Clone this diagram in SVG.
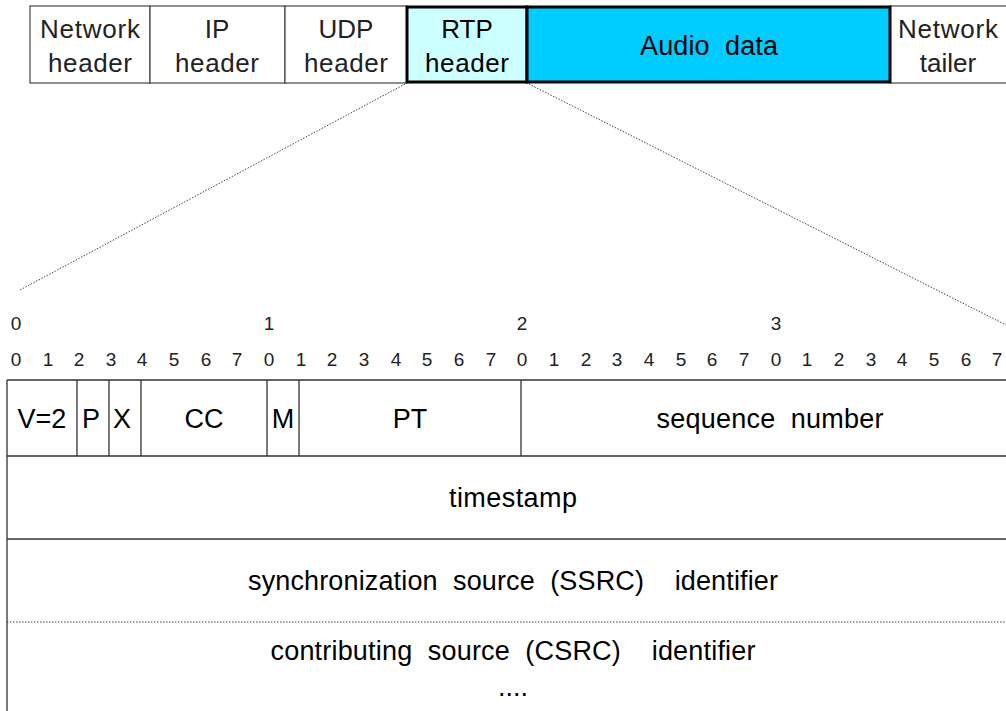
<svg xmlns="http://www.w3.org/2000/svg" width="1006" height="711" viewBox="0 0 1006 711">
<style>
text{font-family:"Liberation Sans",Arial,sans-serif;fill:#000;text-anchor:middle}
.hd{font-size:26px;fill:#222}
.bit{font-size:19px;fill:#222}
.fld{font-size:27px}
.pre{white-space:pre}
.box{fill:#fff;stroke:#444;stroke-width:1.2}
.thick{stroke:#000;stroke-width:3}
.ln{stroke:#333;stroke-width:1.3;fill:none}
.dot{stroke:#444;stroke-width:1;stroke-dasharray:1.5 1.5;fill:none}
</style>
<rect width="1006" height="711" fill="#fff"/>
<g id="packet">
<g id="net-header"><rect class="box" x="30" y="6" width="120" height="77"/><text class="hd" x="90" y="38" textLength="100">Network</text><text class="hd" x="90" y="72" textLength="84">header</text></g>
<g id="ip-header"><rect class="box" x="150" y="6" width="135" height="77"/><text class="hd" x="217" y="38">IP</text><text class="hd" x="217" y="72" textLength="84">header</text></g>
<g id="udp-header"><rect class="box" x="285" y="6" width="122" height="77"/><text class="hd" x="346" y="38">UDP</text><text class="hd" x="346" y="72" textLength="84">header</text></g>
<g id="net-tailer"><rect class="box" x="890" y="6" width="130" height="77"/><text class="hd" x="948" y="38" textLength="100">Network</text><text class="hd" x="948" y="72">tailer</text></g>
<g id="rtp-header"><rect class="thick" x="407" y="7" width="120" height="75" fill="#ccffff"/><text class="hd" x="467" y="38" style="fill:#000">RTP</text><text class="hd" x="467" y="72" style="fill:#000" textLength="84">header</text></g>
<g id="audio-data"><rect class="thick" x="527" y="7" width="363" height="75" fill="#00ccff"/><text class="fld pre" x="709" y="55" textLength="138">Audio  data</text></g>
</g>
<g id="connectors">
<line class="dot" x1="405" y1="84" x2="20" y2="290"/>
<line class="dot" x1="529" y1="84" x2="1006" y2="325"/>
</g>
<g id="bytes">
<text class="bit" x="16" y="330">0</text><text class="bit" x="269" y="330">1</text><text class="bit" x="522" y="330">2</text><text class="bit" x="776" y="330">3</text>
</g>
<g id="bits">
<text class="bit" x="16" y="366">0</text><text class="bit" x="48" y="366">1</text><text class="bit" x="79" y="366">2</text><text class="bit" x="111" y="366">3</text><text class="bit" x="142" y="366">4</text><text class="bit" x="174" y="366">5</text><text class="bit" x="206" y="366">6</text><text class="bit" x="237" y="366">7</text>
<text class="bit" x="269" y="366">0</text><text class="bit" x="301" y="366">1</text><text class="bit" x="332" y="366">2</text><text class="bit" x="364" y="366">3</text><text class="bit" x="396" y="366">4</text><text class="bit" x="427" y="366">5</text><text class="bit" x="459" y="366">6</text><text class="bit" x="491" y="366">7</text>
<text class="bit" x="522" y="366">0</text><text class="bit" x="554" y="366">1</text><text class="bit" x="586" y="366">2</text><text class="bit" x="617" y="366">3</text><text class="bit" x="649" y="366">4</text><text class="bit" x="681" y="366">5</text><text class="bit" x="712" y="366">6</text><text class="bit" x="744" y="366">7</text>
<text class="bit" x="776" y="366">0</text><text class="bit" x="807" y="366">1</text><text class="bit" x="839" y="366">2</text><text class="bit" x="871" y="366">3</text><text class="bit" x="902" y="366">4</text><text class="bit" x="934" y="366">5</text><text class="bit" x="966" y="366">6</text><text class="bit" x="997" y="366">7</text>
</g>
<g id="rtp-table">
<line class="ln" x1="7" y1="380" x2="1006" y2="380"/>
<line class="ln" x1="7" y1="456" x2="1006" y2="456"/>
<line class="ln" x1="7" y1="539" x2="1006" y2="539"/>
<line class="dot" x1="7" y1="622" x2="1006" y2="622"/>
<line class="ln" x1="7" y1="380" x2="7" y2="711"/>
<line class="ln" x1="77" y1="380" x2="77" y2="456"/>
<line class="ln" x1="109" y1="380" x2="109" y2="456"/>
<line class="ln" x1="141" y1="380" x2="141" y2="456"/>
<line class="ln" x1="267" y1="380" x2="267" y2="456"/>
<line class="ln" x1="299" y1="380" x2="299" y2="456"/>
<line class="ln" x1="521" y1="380" x2="521" y2="456"/>
</g>
<g id="f-v"><text class="fld" x="42" y="428">V=2</text></g>
<g id="f-p"><text class="fld" x="91" y="428">P</text></g>
<g id="f-x"><text class="fld" x="122" y="428">X</text></g>
<g id="f-cc"><text class="fld" x="204" y="428">CC</text></g>
<g id="f-m"><text class="fld" x="283" y="428">M</text></g>
<g id="f-pt"><text class="fld" x="410" y="428">PT</text></g>
<g id="f-seq"><text class="fld pre" x="770" y="428" textLength="227">sequence  number</text></g>
<g id="f-ts"><text class="fld" x="513" y="507" textLength="128">timestamp</text></g>
<g id="f-ssrc"><text class="fld pre" x="513" y="590" textLength="530">synchronization  source  (SSRC)    identifier</text></g>
<g id="f-csrc"><text class="fld pre" x="513" y="660" textLength="485">contributing  source  (CSRC)    identifier</text><text class="fld" x="513" y="696">....</text></g>
</svg>
